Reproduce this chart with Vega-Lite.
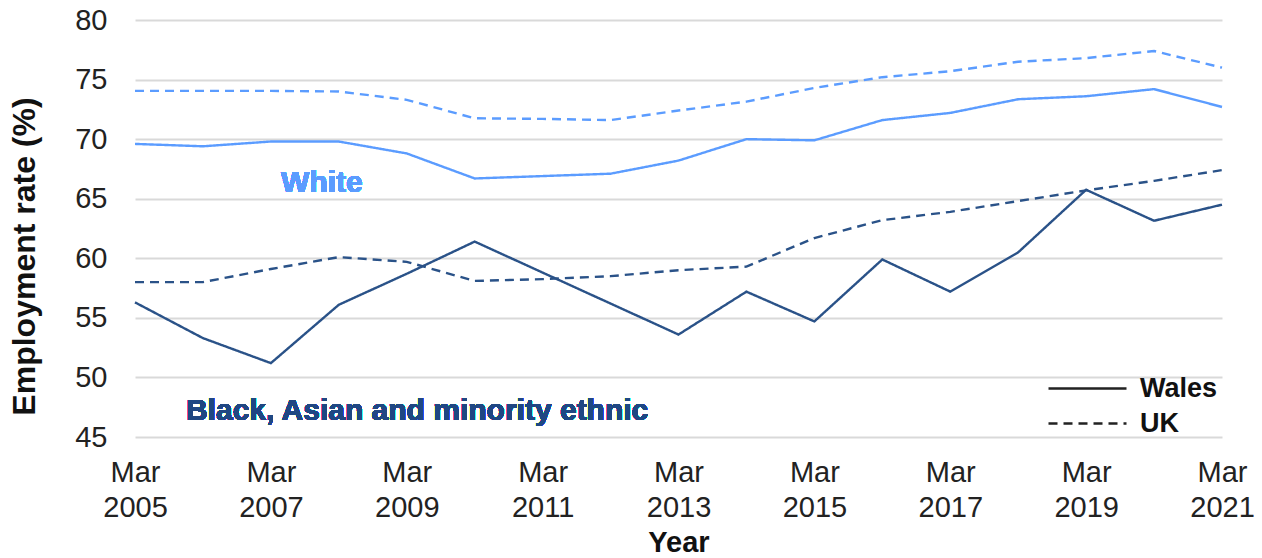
{
  "$schema": "https://vega.github.io/schema/vega-lite/v6.json",
  "autosize": "none",
  "width": 1087,
  "height": 417,
  "padding": {"left": 135, "top": 20, "right": 40, "bottom": 121},
  "background": "white",
  "config": {
    "view": {"stroke": null},
    "font": "Liberation Sans",
    "axis": {"labelFont": "Liberation Sans", "titleFont": "Liberation Sans"},
    "legend": {"labelFont": "Liberation Sans"}
  },
  "data": {
    "values": [
      {"year": 2005, "group": "White", "area": "Wales", "rate": 69.6},
      {"year": 2006, "group": "White", "area": "Wales", "rate": 69.4},
      {"year": 2007, "group": "White", "area": "Wales", "rate": 69.8},
      {"year": 2008, "group": "White", "area": "Wales", "rate": 69.8},
      {"year": 2009, "group": "White", "area": "Wales", "rate": 68.8},
      {"year": 2010, "group": "White", "area": "Wales", "rate": 66.7},
      {"year": 2011, "group": "White", "area": "Wales", "rate": 66.9},
      {"year": 2012, "group": "White", "area": "Wales", "rate": 67.1},
      {"year": 2013, "group": "White", "area": "Wales", "rate": 68.2},
      {"year": 2014, "group": "White", "area": "Wales", "rate": 70.0},
      {"year": 2015, "group": "White", "area": "Wales", "rate": 69.9},
      {"year": 2016, "group": "White", "area": "Wales", "rate": 71.6},
      {"year": 2017, "group": "White", "area": "Wales", "rate": 72.2},
      {"year": 2018, "group": "White", "area": "Wales", "rate": 73.35},
      {"year": 2019, "group": "White", "area": "Wales", "rate": 73.6},
      {"year": 2020, "group": "White", "area": "Wales", "rate": 74.2},
      {"year": 2021, "group": "White", "area": "Wales", "rate": 72.7},
      {"year": 2005, "group": "White", "area": "UK", "rate": 74.05},
      {"year": 2006, "group": "White", "area": "UK", "rate": 74.05},
      {"year": 2007, "group": "White", "area": "UK", "rate": 74.05},
      {"year": 2008, "group": "White", "area": "UK", "rate": 74.0},
      {"year": 2009, "group": "White", "area": "UK", "rate": 73.3},
      {"year": 2010, "group": "White", "area": "UK", "rate": 71.75},
      {"year": 2011, "group": "White", "area": "UK", "rate": 71.7},
      {"year": 2012, "group": "White", "area": "UK", "rate": 71.6},
      {"year": 2013, "group": "White", "area": "UK", "rate": 72.4},
      {"year": 2014, "group": "White", "area": "UK", "rate": 73.15},
      {"year": 2015, "group": "White", "area": "UK", "rate": 74.3},
      {"year": 2016, "group": "White", "area": "UK", "rate": 75.2},
      {"year": 2017, "group": "White", "area": "UK", "rate": 75.7},
      {"year": 2018, "group": "White", "area": "UK", "rate": 76.5},
      {"year": 2019, "group": "White", "area": "UK", "rate": 76.8},
      {"year": 2020, "group": "White", "area": "UK", "rate": 77.4},
      {"year": 2021, "group": "White", "area": "UK", "rate": 76.0},
      {"year": 2005, "group": "BAME", "area": "Wales", "rate": 56.3},
      {"year": 2006, "group": "BAME", "area": "Wales", "rate": 53.3},
      {"year": 2007, "group": "BAME", "area": "Wales", "rate": 51.2},
      {"year": 2008, "group": "BAME", "area": "Wales", "rate": 56.1},
      {"year": 2009, "group": "BAME", "area": "Wales", "rate": 58.7},
      {"year": 2010, "group": "BAME", "area": "Wales", "rate": 61.4},
      {"year": 2011, "group": "BAME", "area": "Wales", "rate": 58.8},
      {"year": 2012, "group": "BAME", "area": "Wales", "rate": 56.2},
      {"year": 2013, "group": "BAME", "area": "Wales", "rate": 53.6},
      {"year": 2014, "group": "BAME", "area": "Wales", "rate": 57.2},
      {"year": 2015, "group": "BAME", "area": "Wales", "rate": 54.7},
      {"year": 2016, "group": "BAME", "area": "Wales", "rate": 59.9},
      {"year": 2017, "group": "BAME", "area": "Wales", "rate": 57.2},
      {"year": 2018, "group": "BAME", "area": "Wales", "rate": 60.5},
      {"year": 2019, "group": "BAME", "area": "Wales", "rate": 65.75},
      {"year": 2020, "group": "BAME", "area": "Wales", "rate": 63.15},
      {"year": 2021, "group": "BAME", "area": "Wales", "rate": 64.5},
      {"year": 2005, "group": "BAME", "area": "UK", "rate": 58.0},
      {"year": 2006, "group": "BAME", "area": "UK", "rate": 58.0},
      {"year": 2007, "group": "BAME", "area": "UK", "rate": 59.1},
      {"year": 2008, "group": "BAME", "area": "UK", "rate": 60.1},
      {"year": 2009, "group": "BAME", "area": "UK", "rate": 59.7},
      {"year": 2010, "group": "BAME", "area": "UK", "rate": 58.1},
      {"year": 2011, "group": "BAME", "area": "UK", "rate": 58.25},
      {"year": 2012, "group": "BAME", "area": "UK", "rate": 58.5},
      {"year": 2013, "group": "BAME", "area": "UK", "rate": 59.0},
      {"year": 2014, "group": "BAME", "area": "UK", "rate": 59.3},
      {"year": 2015, "group": "BAME", "area": "UK", "rate": 61.7},
      {"year": 2016, "group": "BAME", "area": "UK", "rate": 63.2},
      {"year": 2017, "group": "BAME", "area": "UK", "rate": 63.9},
      {"year": 2018, "group": "BAME", "area": "UK", "rate": 64.8},
      {"year": 2019, "group": "BAME", "area": "UK", "rate": 65.7},
      {"year": 2020, "group": "BAME", "area": "UK", "rate": 66.5},
      {"year": 2021, "group": "BAME", "area": "UK", "rate": 67.4}
    ]
  },
  "layer": [
    {
      "mark": {"type": "line", "strokeWidth": 2.4},
      "encoding": {
        "x": {
          "field": "year",
          "type": "quantitative",
          "scale": {"domain": [2005, 2021], "nice": false, "zero": false},
          "axis": {
            "values": [2005, 2007, 2009, 2011, 2013, 2015, 2017, 2019, 2021],
            "labelExpr": "['Mar', '' + datum.value]",
            "labelFontSize": 29,
            "labelColor": "#222222",
            "labelLineHeight": 35,
            "labelPadding": 21,
            "labelFlush": false,
            "labelOverlap": false,
            "grid": false,
            "domain": false,
            "ticks": false,
            "title": "Year",
            "titleFontSize": 29,
            "titleFontWeight": "bold",
            "titleColor": "#111111",
            "titlePadding": 6
          }
        },
        "y": {
          "field": "rate",
          "type": "quantitative",
          "scale": {"domain": [45, 80], "nice": false, "zero": false},
          "axis": {
            "values": [45, 50, 55, 60, 65, 70, 75, 80],
            "labelFontSize": 29,
            "labelColor": "#222222",
            "labelPadding": 28,
            "grid": true,
            "gridColor": "#d9d9d9",
            "gridWidth": 2,
            "domain": false,
            "ticks": false,
            "title": "Employment rate (%)",
            "titleFontSize": 32,
            "titleFontWeight": "bold",
            "titleColor": "#111111",
            "titlePadding": 33,
            "titleY": 236
          }
        },
        "color": {
          "field": "group",
          "type": "nominal",
          "scale": {"domain": ["White", "BAME"], "range": ["#5b9cff", "#2a5288"]},
          "legend": null
        },
        "strokeDash": {
          "field": "area",
          "type": "nominal",
          "scale": {"domain": ["Wales", "UK"], "range": [[1, 0], [9, 6]]},
          "legend": {
            "title": null,
            "orient": "none",
            "legendX": 938,
            "legendY": 354,
            "symbolType": "M-3,0H3",
            "symbolSize": 676,
            "symbolStrokeColor": "#222222",
            "symbolStrokeWidth": 2.5,
            "labelFontSize": 27,
            "labelFontWeight": "bold",
            "labelColor": "#111111",
            "labelOffset": 38,
            "rowPadding": 7,
            "labelBaseline": "middle"
          }
        },
        "detail": {"field": "group"}
      }
    },
    {
      "mark": {"type": "text", "text": "White", "fontSize": 30, "fontWeight": "bold", "color": "#5b9cff", "align": "center", "baseline": "middle"},
      "encoding": {"x": {"datum": 2007.75}, "y": {"datum": 66.3}}
    },
    {
      "mark": {"type": "text", "text": "Black, Asian and minority ethnic", "fontSize": 30, "fontWeight": "bold", "color": "#1f4783", "align": "left", "baseline": "middle"},
      "encoding": {"x": {"datum": 2005.75}, "y": {"datum": 47.15}}
    }
  ]
}
